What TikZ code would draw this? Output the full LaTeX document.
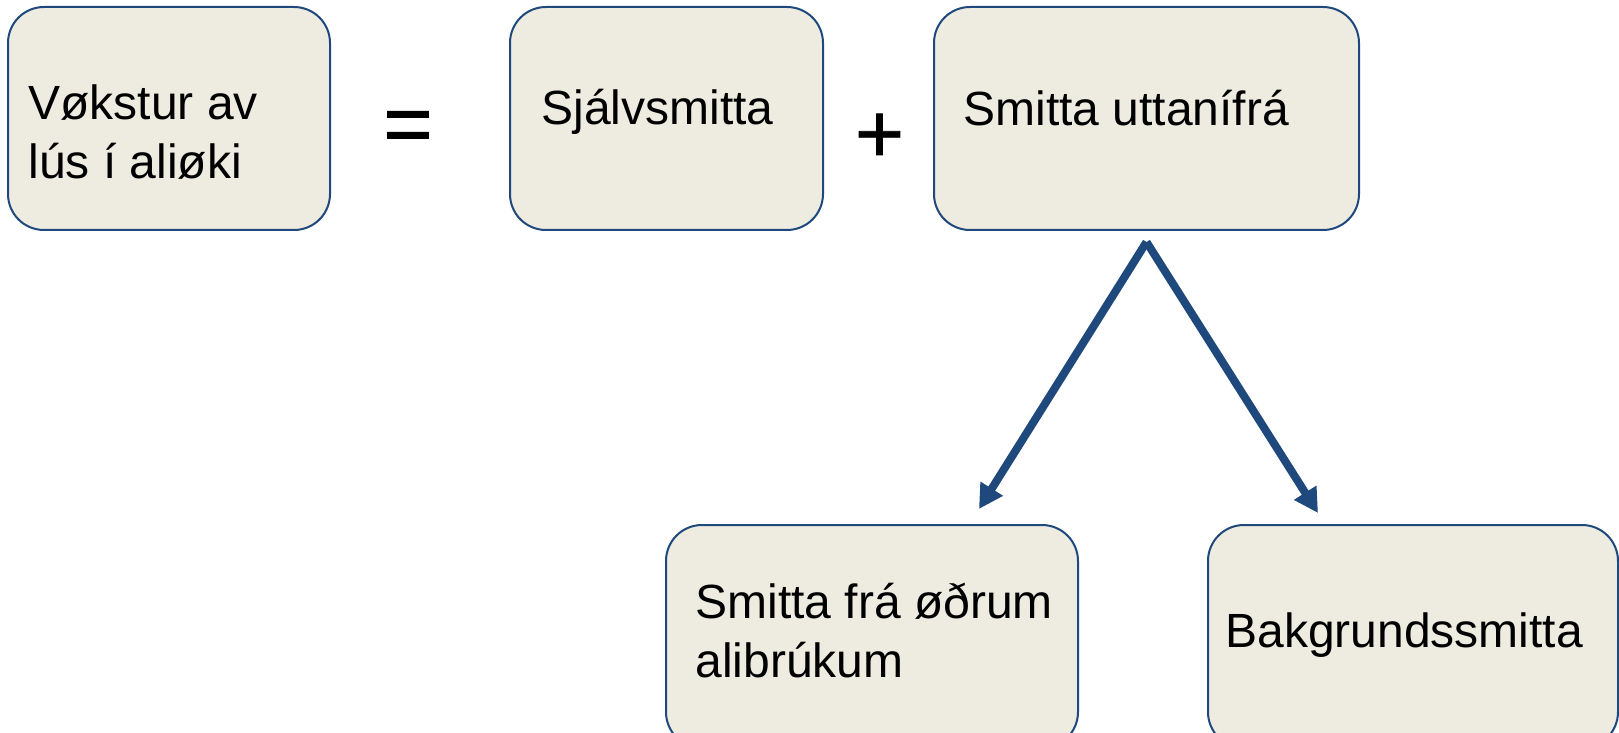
\documentclass[tikz,border=0pt]{standalone}
\usepackage{fontspec}
\setmainfont{Liberation Sans}
\newfontfamily\signfont[FakeBold=1]{Liberation Sans}
\usetikzlibrary{arrows.meta}
\usetikzlibrary{calc}
\definecolor{boxfill}{RGB}{238,236,225}
\definecolor{boxline}{RGB}{31,73,125}
\tikzset{
	smittabox/.style={shape=rectangle,draw=boxline,fill=boxfill,line width=1pt,rounded corners=18pt,minimum height=111.5pt,inner sep=0pt,outer sep=0pt},
	smittatext/.style={anchor=base west,inner sep=0pt,align=left,font=\fontsize{24pt}{29.25pt}\selectfont},
	bigsign/.style={inner sep=0pt,font=\signfont\fontsize{42pt}{50pt}\selectfont},
	smittaarrow/.style={draw=boxline,line width=4pt,-{Triangle[length=12pt,width=12.5pt]}}
}

\begin{document}
\begin{tikzpicture}[x=0.5pt,y=-0.5pt]
	\useasboundingbox (0,0) rectangle (1619,733);
	% top row: vokstur = sjalv + uttan
	\node[smittabox,minimum width=161pt] (vokstur) at (169,118.5) {};
	\node[smittabox,minimum width=156.5pt] (sjalv) at (666.5,118.5) {};
	\node[smittabox,minimum width=212.5pt] (uttan) at (1146.5,118.5) {};
	\node[smittatext] (voksturtxt) at ($(vokstur.north west)+(20,171)$) {Vøkstur av\\lús í aliøki};
	\node[smittatext] (sjalvtxt) at ($(sjalv.north west)+(31,118)$) {Sjálvsmitta};
	\node[smittatext] (uttantxt) at ($(uttan.north west)+(29,119)$) {Smitta uttanífrá};
	\node[bigsign] (eq) at (408,132) {=};
	\node[bigsign] (plus) at (879.5,138) {+};
	% bottom row
	\node[smittabox,minimum width=206pt] (odrum) at (872,636.5) {};
	\node[smittabox,minimum width=205pt] (bakgrund) at (1413,636.5) {};
	\node[smittatext] (odrumtxt) at ($(odrum.north west)+(29,152)$) {Smitta frá øðrum\\alibrúkum};
	\node[smittatext] (bakgrundtxt) at ($(bakgrund.north west)+(17,122)$) {Bakgrundssmitta};
	\coordinate (split) at ($(uttan.south)+(0,12)$);
	\coordinate (odrumtip) at ($(odrum.north)+(107,-16)$);
	\coordinate (bakgrundtip) at ($(bakgrund.north)+(-95,-12)$);
	\draw[smittaarrow] (split) -- (odrumtip);
	\draw[smittaarrow] (split) -- (bakgrundtip);
\end{tikzpicture}
\end{document}
